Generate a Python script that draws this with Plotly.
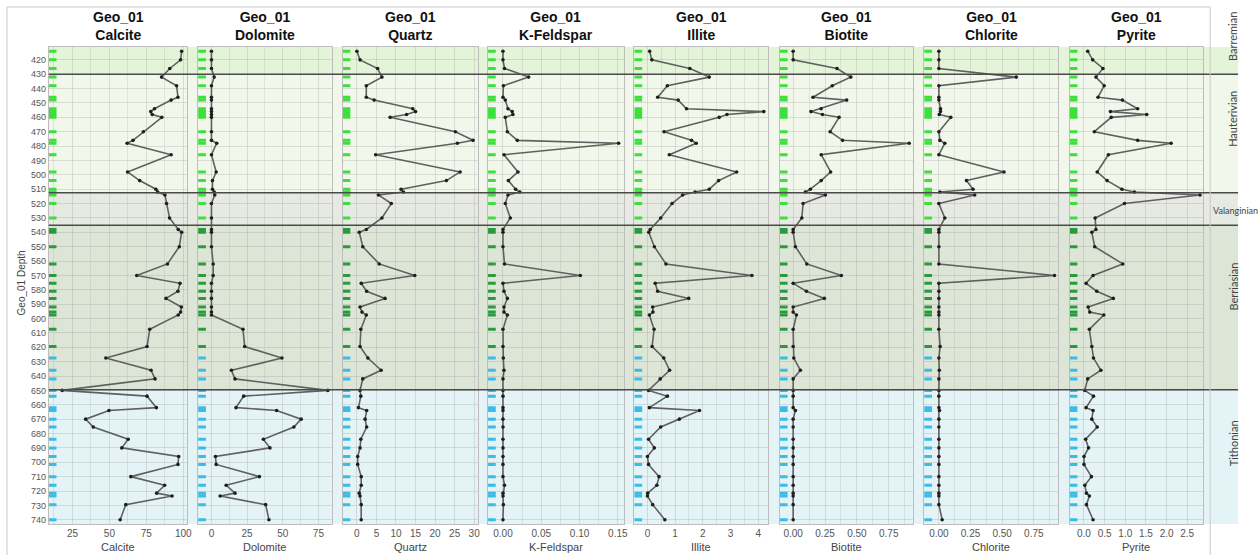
import plotly.graph_objects as go

# ---------------- data ----------------
well = "Geo_01"
minerals = ["Calcite", "Dolomite", "Quartz", "K-Feldspar", "Illite", "Biotite", "Chlorite", "Pyrite"]

depth = [414, 420, 426, 432, 438, 446, 448, 454, 456, 458, 460, 470, 476, 478, 486, 498, 504,
         510, 512, 514, 520, 530, 538, 540, 550, 562, 570, 575.5, 581, 586, 592, 595.5, 597.5,
         607.5, 619.5, 627.5, 636, 642, 650, 654, 662, 664, 670, 675.5, 684, 690, 696, 701.5,
         710, 716, 721.5, 723.5, 729.5, 740]

calcite = [98.9, 98.2, 90.9, 85.3, 95.5, 96.4, 91.8, 80.5, 78, 79, 85.5, 73, 66, 62, 91.8, 62.3, 70.5,
           81.5, 82.7, 87.6, 88.7, 90.7, 96.6, 98.9, 97.3, 89.3, 68.5, 97.8, 96.4, 88.3, 98.7, 98.2, 96.6,
           77.3, 75.5, 47.6, 78.2, 80.9, 18, 75.5, 81.8, 49.7, 33.9, 39.1, 62.7, 58.4, 96.9, 96.4,
           64.5, 87.4, 82, 92.4, 61.1, 57.3]

dolomite = [0, 0, 0, 1.9, 0, 0, 0, 0, 0, 0, 0, 0, 0, 3.7, 0, 3.3, 0.7,
            0.7, 1.9, 2.3, 0, 0, 0, 0, 0, 1.2, 1.2, 0, 0, 0, 0, 0, 0,
            22.1, 23.3, 49.4, 14, 16.5, 81.6, 22.6, 17.2, 45.7, 62.9, 57.8, 36.4, 41, 2.8, 3.3,
            33.6, 10.3, 16.5, 6.1, 38, 40.3]

quartz = [0, 0.8, 5.3, 6.4, 2.4, 2.4, 4.4, 14.3, 15, 12.7, 8.5, 25.2, 29.7, 25.7, 4.8, 26.4, 22.9,
          11.3, 11.9, 5.5, 8.8, 6.4, 2.4, 0.6, 1.5, 5.7, 14.8, 1.1, 2.5, 7.2, 0.8, 1.3, 2.4,
          1, 0.8, 2.8, 6.2, 1.5, 0.8, 1, 0.4, 2.5, 2.1, 2.5, 1, 0.8, 0.2, 0.2,
          1.1, 1.1, 0.6, 0.8, 1.1, 1.1]

kfeldspar = [0, 0, 0.002, 0.0335, 0.0005, 0, 0.003, 0.0065, 0.012, 0.013, 0.003, 0.0057, 0.0187, 0.151,
             0.0013, 0.0196, 0.007, 0.0165, 0.022, 0.0065, 0.003, 0.0096, 0, 0, 0, 0.002, 0.101,
             0, 0.0013, 0.0057, 0.0013, 0.0013, 0.0057, 0, 0, 0.0004, 0.0013, 0, 0, 0,
             0, 0, 0, 0, 0, 0, 0, 0, 0, 0.002, 0, 0, 0.0005, 0]

illite = [0.08, 0.16, 1.53, 2.23, 0.72, 0.37, 1.11, 1.41, 4.2, 2.87, 2.59, 0.6, 1.59, 1.76, 0.79, 3.22, 2.57,
          2.23, 1.72, 1.27, 0.89, 0.48, 0.1, 0.05, 0.25, 0.67, 3.77, 0.28, 0.37, 1.49, 0.19, 0.2, 0.07,
          0.24, 0.17, 0.59, 0.8, 0.46, 0.04, 0.72, 0.07, 1.88, 1.15, 0.48, 0.04, 0.25, 0, 0.04,
          0.42, 0.34, 0.01, 0, 0.19, 0.63]

biotite = [0, 0, 0.344, 0.453, 0.307, 0.156, 0.42, 0.219, 0.14, 0.23, 0.36, 0.29, 0.388, 0.91, 0.22, 0.294, 0.22,
           0.135, 0.096, 0.253, 0.078, 0.068, 0, 0, 0.018, 0.107, 0.378, 0, 0.104, 0.245, 0, 0, 0.026,
           0, 0, 0.005, 0.057, 0, 0, 0, 0, 0.018, 0, 0, 0, 0, 0, 0,
           0, 0, 0, 0, 0, 0]

chlorite = [0, 0, 0, 0.611, 0, 0, 0, 0.013, 0.013, 0.003, 0.094, 0, 0.008, 0.047, 0, 0.514, 0.218,
            0.27, 0.008, 0.283, 0, 0.047, 0, 0, 0, 0, 0.913, 0, 0, 0, 0, 0, 0,
            0, 0.01, 0, 0.003, 0, 0, 0, 0, 0.005, 0, 0, 0, 0, 0, 0,
            0, 0, 0, 0, 0, 0.026]

pyrite = [0.09, 0.21, 0.46, 0.29, 0.49, 0.34, 0.93, 1.3, 0.64, 1.52, 0.66, 0.25, 1.3, 2.11, 0.59, 0.32, 0.56,
          0.92, 1.22, 2.81, 0.98, 0.27, 0.29, 0.19, 0.26, 0.94, 0.22, 0.05, 0.31, 0.71, 0.1, 0.14, 0.48,
          0.13, 0.19, 0.23, 0.41, 0.09, 0.02, 0.23, 0.05, 0.22, 0.19, 0.32, 0.04, 0.11, 0, 0,
          0.18, 0.02, 0.06, 0.13, 0.06, 0.22]

# sample facies group used for the coloured sample ticks (0 = upper, 1 = middle, 2 = lower)
sample_group = [0] * 22 + [1] * 13 + [2] * 19

stage_names = ["Barremian", "Hauterivian", "Valanginian", "Berriasian", "Tithonian"]
stage_top = [411, 430, 512.5, 535, 649.5]
stage_base = [430, 512.5, 535, 649.5, 743]

series = [calcite, dolomite, quartz, kfeldspar, illite, biotite, chlorite, pyrite]

# ---------------- styling / layout ----------------
W, H = 1260, 556
panel_left = [49, 199, 344, 490, 637, 783, 928, 1074]
panel_right = [188, 333, 480, 626, 771, 917, 1062, 1208]
x_ranges = [[9, 102.7], [-9.3, 84.3], [-3.65, 31.0], [-0.0195, 0.1574],
            [-0.467, 4.348], [-0.104, 0.943], [-0.115, 0.939], [-0.345, 2.887]]
x_dtick = [25, 25, 5, 0.05, 1, 0.25, 0.25, 0.5]
x_minor = [True, True, False, True, True, True, True, False]
x_fmt = ["d", "d", "d", ".2f", "d", ".2f", ".2f", ".1f"]
plot_top, plot_bot = 47, 525
depth_range = [743, 411]
strip_right = 1243
stage_colors = ["#e4f4d8", "#f1f8eb", "#e7eae2", "#dde5d6", "#e3f3f6"]
stage_label_px = [37, 119, 211, 287, 444]
group_colors = ["#3ddf3d", "#2a9a3c", "#3bbbe8"]
tick_color = "#555555"
grid_col = "rgba(150,150,150,0.28)"
minor_grid_col = "rgba(150,150,150,0.2)"
FONT = "Liberation Sans, Arial, sans-serif"

fig = go.Figure()
ydom = [1 - plot_bot / H, 1 - plot_top / H]

for i, (name, vals) in enumerate(zip(minerals, series)):
    n = "" if i == 0 else str(i + 1)
    xr = x_ranges[i]
    width_px = panel_right[i] - panel_left[i]
    # sample ticks at the left edge of each track
    dash_x = xr[0] + 3.5 / width_px * (xr[1] - xr[0])
    fig.add_trace(go.Scatter(
        x=[dash_x] * len(depth), y=depth, mode="markers",
        marker=dict(symbol="line-ew", size=6,
                    line=dict(width=3, color=[group_colors[g] for g in sample_group])),
        xaxis="x" + n, yaxis="y" + n, hoverinfo="skip", showlegend=False))
    fig.add_trace(go.Scatter(
        x=vals, y=depth, mode="lines+markers",
        line=dict(color="#606060", width=1.6),
        marker=dict(size=3.6, color="#1e1e1e"),
        xaxis="x" + n, yaxis="y" + n, showlegend=False, name=name))

    fig.layout["xaxis" + n] = dict(
        domain=[panel_left[i] / W, panel_right[i] / W], range=xr, anchor="y" + n,
        tickmode="linear", tick0=0, dtick=x_dtick[i], tickformat=x_fmt[i],
        tickfont=dict(size=10, color=tick_color, family=FONT), ticks="",
        showline=True, linecolor="#bdbdbd", linewidth=1, mirror=True,
        showgrid=True, gridcolor=grid_col, gridwidth=1, zeroline=False,
        minor=dict(showgrid=x_minor[i], gridcolor=minor_grid_col, dtick=x_dtick[i] / 2, tick0=0),
        fixedrange=True)
    fig.layout["yaxis" + n] = dict(
        domain=ydom, range=depth_range, anchor="x" + n,
        tickmode="linear", tick0=0, dtick=10,
        showticklabels=(i == 0), ticks="",
        tickfont=dict(size=9, color=tick_color, family=FONT),
        showline=True, linecolor="#bdbdbd", linewidth=1, mirror=True,
        showgrid=True, gridcolor=grid_col, gridwidth=1, zeroline=False,
        fixedrange=True)

    cx = (panel_left[i] + panel_right[i]) / 2 / W
    fig.add_annotation(x=cx, y=1 - 26 / H, xref="paper", yref="paper",
                       text=f"<b>{well}</b><br><b>{name}</b>", showarrow=False,
                       font=dict(size=14, color="#111111", family=FONT),
                       xanchor="center", yanchor="middle")
    fig.add_annotation(x=cx, y=1 - 548 / H, xref="paper", yref="paper", text=name,
                       showarrow=False, font=dict(size=11, color="#444444", family=FONT),
                       xanchor="center", yanchor="middle")

# y-axis title
fig.add_annotation(x=22 / W, y=1 - 283 / H, xref="paper", yref="paper", text=f"{well} Depth",
                   textangle=-90, showarrow=False, font=dict(size=10, color="#444444", family=FONT),
                   xanchor="center", yanchor="middle")

# stage bands, boundaries and labels
for k, sname in enumerate(stage_names):
    fig.add_shape(type="rect", xref="paper", yref="y", x0=panel_left[0] / W, x1=strip_right / W,
                  y0=stage_top[k], y1=stage_base[k], fillcolor=stage_colors[k],
                  line=dict(width=0), layer="below")
    if sname == "Valanginian":
        fig.add_annotation(x=1216 / W, y=1 - stage_label_px[k] / H, xref="paper", yref="paper",
                           text=sname, showarrow=False,
                           font=dict(size=9, color="#444444", family="Lato, sans-serif"),
                           xanchor="left", yanchor="middle")
    else:
        fig.add_annotation(x=1238 / W, y=1 - stage_label_px[k] / H, xref="paper", yref="paper",
                           text=sname, showarrow=False, textangle=-90,
                           font=dict(size=11, color="#444444", family="Lato, sans-serif"),
                           xanchor="center", yanchor="middle")
for b in stage_top[1:]:
    fig.add_shape(type="line", xref="paper", yref="y", x0=panel_left[0] / W, x1=strip_right / W,
                  y0=b, y1=b, line=dict(color="#4a4a4a", width=1.5), layer="above")

# outer frame
fig.add_shape(type="line", xref="paper", yref="paper", x0=7 / W, x1=1215 / W, y0=1 - 7 / H, y1=1 - 7 / H,
              line=dict(color="#c8c8c8", width=1))
fig.add_shape(type="line", xref="paper", yref="paper", x0=7 / W, x1=7 / W, y0=1 - 7 / H, y1=0,
              line=dict(color="#c8c8c8", width=1))
fig.add_shape(type="line", xref="paper", yref="paper", x0=1215 / W, x1=1215 / W, y0=1 - 7 / H, y1=0,
              line=dict(color="#c8c8c8", width=1))

fig.update_layout(width=W, height=H, margin=dict(l=0, r=0, t=0, b=0),
                  paper_bgcolor="white", plot_bgcolor="rgba(0,0,0,0)",
                  showlegend=False, font=dict(family=FONT))

fig.write_html("out.html")
